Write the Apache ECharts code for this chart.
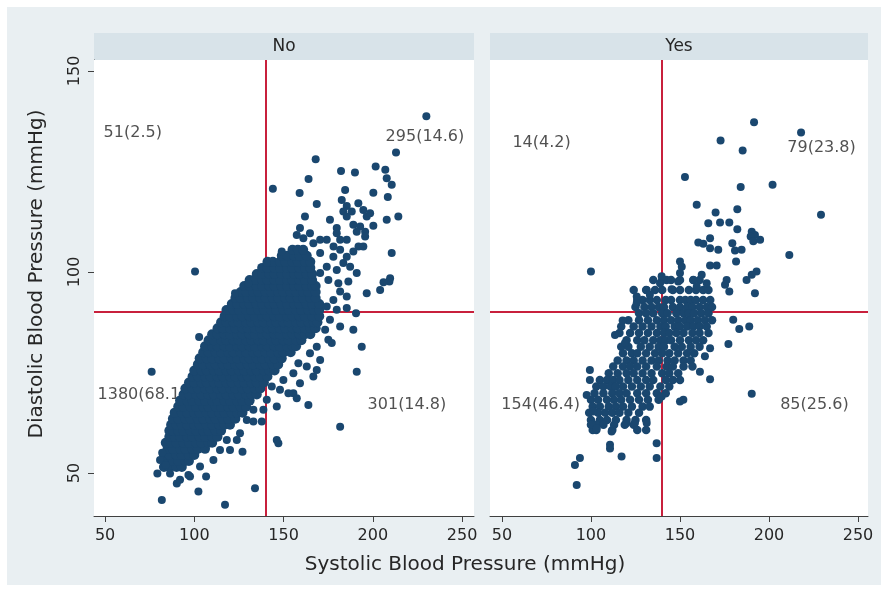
<!DOCTYPE html>
<html><head><meta charset="utf-8">
<script src="https://cdn.jsdelivr.net/npm/echarts@6/dist/echarts.min.js"></script>
<style>html,body{margin:0;padding:0;background:#fff}#c{width:889px;height:593px}</style>
</head><body><div id="c"></div>
<script>
const panelTitles = ['No', 'Yes'];
const xTicks = [50, 100, 150, 200, 250];
const yTicks = [50, 100, 150];
const cutSystolic = 140;
const cutDiastolic = 90;
const xTitle = 'Systolic Blood Pressure (mmHg)';
const yTitle = 'Diastolic Blood Pressure (mmHg)';

// dense core, rows: [diastolic, systolic, systolic, ...]
const noCoreRows = [
[51.5,83,86,90,93],
[53,84,88,91,95,97],
[54.5,83,86,90,93,97,100],
[56,85,88,92,95,99,102,106],
[57.5,84,87,90,94,97,101,104,108,110],
[59,86,89,92,96,99,103,106,110,113],
[60.5,86,88,91,94,98,101,105,108,112,115],
[62,87,90,93,96,100,103,107,110,114,117,120],
[63.5,88,91,95,98,102,105,109,112,116,119,123],
[65,89,93,96,100,103,107,110,114,117,121,124,127],
[66.5,91,94,98,101,105,108,112,115,119,122,126,129],
[68,92,96,99,103,106,110,113,117,120,124,127,131],
[69.5,94,97,101,104,108,111,115,118,122,125,129,132,135],
[71,95,99,102,106,109,113,116,120,123,127,130,134,137],
[72.5,97,100,104,107,111,114,118,121,125,128,132,135,139],
[74,99,102,106,109,113,116,120,123,127,130,134,137,141],
[75.5,100,104,107,111,114,118,121,125,128,132,135,139,142,145],
[77,102,105,109,112,116,119,123,126,130,133,137,140,144,147],
[78.5,103,107,110,114,117,121,124,128,131,135,138,142,145,149],
[80,105,108,112,115,119,122,126,129,133,136,140,143,147,150,154],
[81.5,106,110,113,117,120,124,127,131,134,138,141,145,148,152,155,157],
[83,108,111,115,118,122,125,129,132,136,139,143,146,150,153,157,160],
[84.5,110,113,117,120,124,127,131,134,138,141,145,148,152,155,159,162,165],
[86,113,116,120,123,127,130,134,137,141,144,148,151,155,158,162,165,168],
[87.5,115,118,122,125,129,132,136,139,143,146,150,153,157,160,164,167,169],
[89,117,120,124,127,131,134,138,141,145,148,152,155,159,162,166,170],
[90.5,118,122,125,129,132,136,139,143,146,150,153,157,160,164,167,170],
[92,121,124,128,131,135,138,142,145,149,152,156,159,163,166,170],
[93.5,123,126,130,133,137,140,144,147,151,154,158,161,165,168],
[95,126,129,133,136,140,143,147,150,154,157,161,164,168],
[96.5,128,131,135,138,142,145,149,152,156,159,163,166,168],
[98,131,134,138,141,145,148,152,155,159,162,166],
[99.5,135,138,142,145,149,152,156,159,163,166],
[101,138,141,145,148,152,155,159,162,165],
[102.5,141,144,148,151,155,158,162,165],
[104,149,152,156,159,163],
[105.5,155,158,161]
];
// individual points [systolic, diastolic]
const noScatter = [
[230,138.7],[213,129.7],[168,128],[201.6,126.2],[207,125.4],[207.8,123.3],[210.6,121.7],[182.2,125.1],[190,124.7],[164,123.1],
[144,120.7],[159,119.6],[184.5,120.4],[200.3,119.7],[208.4,118.6],[168.6,116.9],[162,113.8],[176,113],[207.8,113],[214.3,113.8],
[182.6,117.9],[185.4,116.4],[183.5,115],[188.2,115],[191.9,117.1],[194.7,115.4],[196.6,113.8],[198.5,114.6],[179.8,110.9],[185.4,113.8],
[189.1,111.7],[192.9,111.3],[195.7,110],[200.3,111.5],[195.7,108.8],[191,110],[192,106.3],[194.7,106.3],[189.1,105.1],[185.4,108],
[181.7,108],[179.8,109.6],[174.2,108],[178,106.3],[181.7,105.5],[170.5,108],[166.7,107.1],[157.4,109.2],[161.1,108.4],[164.8,109.6],
[159.2,110.9],[177.9,103.8],[183.5,102.2],[187.3,101.3],[179.8,100.5],[174.2,101.3],[170.5,99.7],[191,99.7],[185.4,103.8],[170.5,104.7],
[175.1,98],[180.7,97.2],[186.3,97.6],[185.4,93.9],[181.7,95.1],[177.9,93],[174.2,91.4],[179.8,90.6],[185.4,91],[176,88.1],
[181.7,86.4],[173.3,85.6],[177,82.3],[168.6,81.4],[164.8,79.8],[170.5,78.1],[163,76.5],[158.3,77.3],[155.5,74.8],[149.9,73.1],
[159.2,72.3],[166.7,74],[143.4,71.5],[155.5,69.8],[140.6,68.2],[146.2,66.5],[138.7,65.7],[133.1,65.7],[129.4,63.2],[125.6,59.9],
[118.2,58.2],[123.8,58.2],[114.4,55.7],[120,55.7],[110.7,53.2],[103.2,51.6],[97.6,49.1],[86.4,49.9],[90.2,47.4],[210.6,104.7],
[209.7,98.4],[209.3,97.6],[206,97.4],[204.1,95.5],[196.6,94.7],[190.6,89.7],[189.1,85.6],[193.8,81.4],[191,75.2],[181.7,61.5],
[175.1,83.1],[168.6,75.6],[163.9,66.9],[157.4,68.6],[152.7,69.8],[148,70.7],[146.2,58.2],[147.1,57.4],[137.8,62.8],[133.1,62.8],
[127,55.3],[134,46.2],[117.2,42.1],[102.3,45.4],[106.6,49.1],[92,48.3],[96.7,49.5],[81.8,43.3],[79.3,49.9],[80.8,53.2],
[76.1,75.2],[100.4,100.1],[102.7,83.8],[122.8,94.7],[130.3,97.2],[140.6,102.2],[149,105.1],[82,55],[84,52]
];
const yesCoreRows = [
[98,135,140,142.5,145,150,157.5,161],
[95.5,124,131,136,140,146,150,155,159,163,166],
[93,126,129,133,137,142,145,150,153,156,159,163,167],
[91.3,125,130,134,138,141,146,150,154,157,161,165,168],
[89.7,127,131,135,140,143,148,152,155,158,162,166],
[88,121,127,132,137,141,145,149,153,156,160,164,168],
[86.4,117,124,129,134,139,142,147,150,154,157.5,161,165],
[84.8,116,122,127,132,137,141,144,148,152,157,161,166],
[83,120,126,130,135,139,142,145,150,155,159,163],
[81.4,117,121,128,133,138,141,147,151,156,161],
[79.8,118,123,126,131,136,140,144,149,154,158],
[78,115,120,124,129,134,138,143,147,152,156],
[76.5,112.5,118,122,126,131,137,142.5,146,152,157],
[74.8,110,115,120,124,129,134,140,144,149],
[73.1,105,109,112.5,116,121,126,131,135,142,146,150],
[71.5,103,107,111,114,118,123,128,133,139,144],
[69.8,102,107,112,116,120,126,131,137,142],
[68.2,100,104,109,113,117,122,127,132,138],
[66.5,101,105,110,114,118,123,129,133],
[65,99,104,108,112,116,121,127],
[63.2,100,105,109,114,120,125,131],
[62,100,103,107,113,119,124],
[60.7,101,103,112,126,131]
];
const yesScatter = [
[191.6,137.2],[218,134.7],[172.8,132.7],[185.2,130.2],[152.8,123.6],[202,121.7],[184.1,121.1],[229.2,114.2],[159.4,116.7],[170,114.8],
[182.2,115.6],[165.9,112.1],[172.5,112.3],[177.7,112.3],[182.2,110.6],[190.3,110],[192.1,109.2],[189.7,108.8],[191.2,107.6],[195,108],
[166.9,108.4],[160.3,107.3],[163.1,107],[166.9,105.9],[171.5,105.5],[179.4,107.1],[180.9,105.3],[184.6,105.5],[211.4,104.2],[181.5,102.6],
[166.9,101.6],[170.6,101.6],[150,102.6],[151,101.3],[193,100.1],[190.3,99.3],[187.4,98],[176.2,98],[175.3,96.8],[177.7,95.1],
[192.1,94.7],[162.2,99.3],[165,97.2],[157.5,98],[159.4,96.4],[150,99.7],[149,97.6],[145.3,95.7],[139.7,98.9],[138.8,97.2],
[125.7,93.9],[125.7,92.2],[131.3,95.5],[133.1,94.3],[179.9,88.1],[183.3,85.8],[188.9,86.4],[177.2,82.1],[190.3,69.7],[150,67.8],
[151.9,68.2],[166.9,73.3],[161.2,75.2],[164,79],[166.9,81],[100,100.1],[113.5,84.3],[117.8,87.9],[119.1,82.3],[97.6,69.4],
[91,52],[93.8,53.7],[92,47],[101.3,65.3],[100.4,62],[103.2,61.1],[111.6,60.3],[110.7,57],[110.7,56.1],[117.2,54.1],
[120,62.4],[124.7,62.4],[131.3,62.4],[136.9,57.4],[136.9,53.7],[139.7,69],[99.4,75.6],[99.4,73.1]
];
// quadrant annotations: [text, systolic, diastolic]
const noLabels = [['51(2.5)',48.9,134.6],['295(14.6)',206.9,133.6],['1380(68.1)',45.5,69.4],['301(14.8)',196.8,66.9]];
const yesLabels = [['14(4.2)',55.6,132.1],['79(23.8)',210,130.8],['154(46.4)',49.4,66.9],['85(25.6)',206,66.9]];

function rowsToPoints(rows){const out=[];rows.forEach(r=>{for(let i=1;i<r.length;i++)out.push([r[i],r[0]]);});return out;}
const noCore = rowsToPoints(noCoreRows);
const yesCore = rowsToPoints(yesCoreRows);

const FONT = 'DejaVu Sans';
const TXT = '#262626';
const NAVY = '#1a476f';
const RED = '#c8203c';
const grids = [
  {left:94, top:60, width:380, height:456},
  {left:490, top:60, width:378, height:456}
];
const xRanges = [[43.8,256.7],[43.3,255.6]];
const yRange = [39.3,152.7];

function xAxis(i){return {gridIndex:i,type:'value',min:xRanges[i][0],max:xRanges[i][1],
  axisLine:{show:true,onZero:false,lineStyle:{color:'#404040',width:1}},
  axisTick:{show:true,length:6,customValues:xTicks,lineStyle:{color:'#404040'}},
  axisLabel:{customValues:xTicks,fontFamily:FONT,fontSize:16,color:TXT,margin:12},
  splitLine:{show:false}};}
function yAxis(i){return {gridIndex:i,type:'value',min:yRange[0],max:yRange[1],
  axisLine:{show:i===0,onZero:false,lineStyle:{color:'#404040',width:1}},
  axisTick:{show:i===0,length:6,customValues:yTicks,lineStyle:{color:'#404040'}},
  axisLabel:{show:i===0,customValues:yTicks,rotate:90,fontFamily:FONT,fontSize:16,color:TXT,margin:11},
  splitLine:{show:true,lineStyle:{color:'#e6eef1',width:1}}};}

function annoSeries(i,labels){return {type:'scatter',xAxisIndex:i,yAxisIndex:i,z:2,silent:true,
  symbolSize:1,itemStyle:{color:'rgba(0,0,0,0)'},
  data:labels.map(l=>({name:l[0],value:[l[1],l[2]]})),
  label:{show:true,position:'right',distance:0,formatter:'{b}',fontFamily:FONT,fontSize:16,color:TXT},
  markLine:{silent:true,z:1,symbol:['none','none'],animation:false,label:{show:false},
    lineStyle:{color:RED,width:2,type:'solid'},
    data:[{xAxis:cutSystolic},{yAxis:cutDiastolic}]}};}
function dotSeries(i,pts,size){return {type:'scatter',xAxisIndex:i,yAxisIndex:i,z:10,silent:true,
  symbolSize:size,itemStyle:{color:NAVY,opacity:1},data:pts};}

const chart = echarts.init(document.getElementById('c'),null,{renderer:'canvas'});
chart.setOption({
  animation:false,
  backgroundColor:'#ffffff',
  grid:grids.map(g=>Object.assign({show:true,backgroundColor:'#ffffff',borderWidth:0,z:1},g)),
  xAxis:[xAxis(0),xAxis(1)],
  yAxis:[yAxis(0),yAxis(1)],
  graphic:[
    {type:'rect',z:-100,shape:{x:7,y:7,width:874,height:578},style:{fill:'#e9eff2'},silent:true},
    {type:'rect',z:0,shape:{x:94,y:33,width:380,height:27},style:{fill:'#d8e3e9'},silent:true},
    {type:'rect',z:0,shape:{x:490,y:33,width:378,height:27},style:{fill:'#d8e3e9'},silent:true},
    {type:'text',z:1,x:284,y:47,style:{text:panelTitles[0],fill:TXT,font:'17px "DejaVu Sans"',textAlign:'center',textVerticalAlign:'middle'}},
    {type:'text',z:1,x:679,y:47,style:{text:panelTitles[1],fill:TXT,font:'17px "DejaVu Sans"',textAlign:'center',textVerticalAlign:'middle'}},
    {type:'text',z:1,x:465,y:565,style:{text:xTitle,fill:TXT,font:'20px "DejaVu Sans"',textAlign:'center',textVerticalAlign:'middle'}},
    {type:'text',z:1,x:37,y:274,rotation:Math.PI/2,style:{text:yTitle,fill:TXT,font:'20px "DejaVu Sans"',textAlign:'center',textVerticalAlign:'middle'}}
  ],
  series:[annoSeries(0,noLabels),annoSeries(1,yesLabels),
    dotSeries(0,noCore,10),dotSeries(0,noScatter,8),
    dotSeries(1,yesCore,8.5),dotSeries(1,yesScatter,8)]
});
</script></body></html>
